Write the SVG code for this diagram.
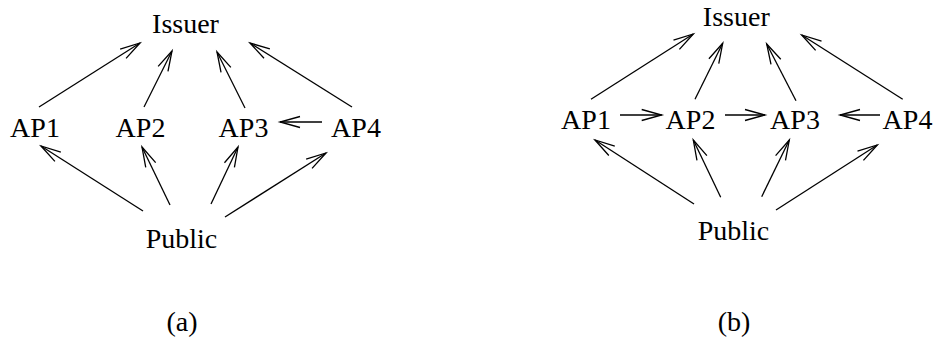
<svg xmlns="http://www.w3.org/2000/svg" width="937" height="342" viewBox="0 0 937 342">
<style>
text{font-family:"Liberation Serif","Times New Roman",serif;font-size:28px;fill:#000;text-anchor:middle}
.c line{stroke:#000;stroke-width:1.3;fill:none;marker-end:url(#ah)}
</style>
<defs>
<marker id="ah" markerUnits="userSpaceOnUse" viewBox="-22 -8 24 16" refX="0" refY="0" markerWidth="24" markerHeight="16" orient="auto" overflow="visible">
<path d="M-20,-5.5 L0,0 L-20,5.5" fill="none" stroke="#000" stroke-width="1.3"/>
</marker>
</defs>
<rect width="937" height="342" fill="#fff"/>
<g id="a-issuer"><text x="185.5" y="33">Issuer</text></g>
<g id="a-ap1"><text x="35" y="137">AP1</text></g>
<g id="a-ap2"><text x="140.5" y="137">AP2</text></g>
<g id="a-ap3"><text x="243.5" y="137">AP3</text></g>
<g id="a-ap4"><text x="356" y="137">AP4</text></g>
<g id="a-public"><text x="181.5" y="248">Public</text></g>
<g id="a-label"><text x="182" y="331">(a)</text></g>
<g id="b-issuer"><text x="736.3" y="26">Issuer</text></g>
<g id="b-ap1"><text x="586" y="129">AP1</text></g>
<g id="b-ap2"><text x="690.5" y="129">AP2</text></g>
<g id="b-ap3"><text x="795" y="129">AP3</text></g>
<g id="b-ap4"><text x="907.5" y="129">AP4</text></g>
<g id="b-public"><text x="733.5" y="240">Public</text></g>
<g id="b-label"><text x="734" y="331">(b)</text></g>
<g id="connectors" class="c">
<line x1="39" y1="107" x2="140" y2="43"/>
<line x1="144" y1="107" x2="172" y2="51"/>
<line x1="245" y1="108" x2="217" y2="52"/>
<line x1="352" y1="107" x2="250" y2="43"/>
<line x1="322" y1="122" x2="280" y2="122"/>
<line x1="143" y1="211" x2="41" y2="146"/>
<line x1="170" y1="205" x2="142" y2="147"/>
<line x1="211" y1="204" x2="238" y2="147"/>
<line x1="225" y1="217" x2="326" y2="153"/>
<line x1="591" y1="99.3" x2="693.3" y2="34"/>
<line x1="695" y1="99.3" x2="722.7" y2="43.3"/>
<line x1="796" y1="100.7" x2="766.7" y2="44"/>
<line x1="902.7" y1="99.3" x2="801.7" y2="35"/>
<line x1="620" y1="115" x2="661.7" y2="115"/>
<line x1="725" y1="115" x2="765" y2="115"/>
<line x1="880" y1="115" x2="840" y2="115"/>
<line x1="694" y1="204" x2="595" y2="140"/>
<line x1="720.7" y1="197.3" x2="693.3" y2="140"/>
<line x1="761.7" y1="196.7" x2="789.3" y2="140"/>
<line x1="776" y1="210" x2="877.3" y2="145"/>
</g>
</svg>
